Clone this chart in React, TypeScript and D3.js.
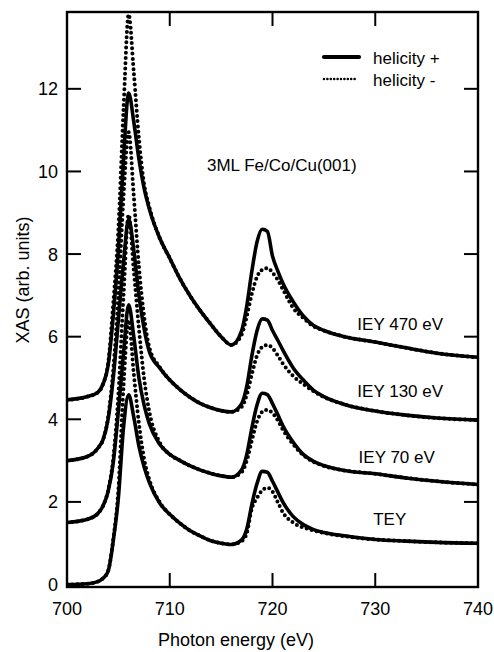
import React, { useEffect, useRef } from "react";
import * as d3 from "d3";

// photon energy samples (eV)
const energy = [700, 702, 703, 703.5, 704, 704.5, 705, 705.5, 706, 706.5, 707, 707.5, 708, 709, 710, 711, 712, 713, 714, 715, 716, 717, 717.5, 718, 718.5, 719, 719.5, 720, 720.5, 721, 722, 723, 724, 725, 727, 730, 733, 736, 740];

const teyPlus = [0.0, 0.02, 0.07, 0.15, 0.32, 1.05, 2.1, 3.8, 4.59, 4.05, 3.35, 2.85, 2.48, 1.98, 1.7, 1.48, 1.3, 1.17, 1.06, 1.0, 0.97, 1.08, 1.35, 1.95, 2.45, 2.74, 2.72, 2.5, 2.25, 2.0, 1.65, 1.45, 1.33, 1.26, 1.18, 1.09, 1.05, 1.02, 1.0];
const teyMinus = [0.0, 0.02, 0.07, 0.15, 0.33, 1.1, 2.3, 4.8, 6.4, 5.1, 3.9, 3.05, 2.55, 2.0, 1.7, 1.48, 1.3, 1.17, 1.06, 1.0, 0.97, 1.05, 1.25, 1.85, 2.1, 2.28, 2.34, 2.25, 2.0, 1.75, 1.5, 1.38, 1.31, 1.25, 1.17, 1.09, 1.05, 1.02, 1.0];

const iey70Plus = [1.5, 1.58, 1.72, 1.9, 2.25, 2.95, 4.2, 5.6, 6.77, 6.0, 5.0, 4.35, 3.9, 3.4, 3.15, 3.0, 2.87, 2.77, 2.69, 2.63, 2.6, 2.78, 3.15, 3.8, 4.35, 4.63, 4.6, 4.38, 4.12, 3.85, 3.45, 3.15, 2.98, 2.88, 2.76, 2.68, 2.58, 2.5, 2.42];
const iey70Minus = [1.5, 1.58, 1.72, 1.9, 2.28, 3.05, 4.6, 7.0, 8.95, 7.6, 6.2, 5.0, 4.2, 3.45, 3.15, 3.0, 2.87, 2.77, 2.69, 2.63, 2.6, 2.72, 3.0, 3.5, 3.95, 4.18, 4.23, 4.15, 3.98, 3.75, 3.4, 3.13, 2.97, 2.87, 2.76, 2.68, 2.58, 2.5, 2.42];

const iey130Plus = [3.0, 3.1, 3.3, 3.5, 4.0, 5.0, 6.4, 7.8, 8.85, 8.1, 7.0, 6.2, 5.65, 5.25, 4.95, 4.72, 4.53, 4.38, 4.28, 4.21, 4.18, 4.38, 4.8, 5.55, 6.15, 6.43, 6.4, 6.15, 5.92, 5.68, 5.25, 4.95, 4.7, 4.55, 4.36, 4.2, 4.1, 4.03, 3.98];
const iey130Minus = [3.0, 3.1, 3.3, 3.5, 4.05, 5.2, 7.0, 9.4, 10.95, 9.4, 7.7, 6.5, 5.75, 5.27, 4.95, 4.72, 4.53, 4.38, 4.28, 4.21, 4.18, 4.3, 4.6, 5.1, 5.55, 5.75, 5.8, 5.72, 5.55, 5.35, 5.05, 4.85, 4.68, 4.54, 4.36, 4.2, 4.1, 4.03, 3.98];

const iey470Plus = [4.47, 4.55, 4.65, 4.85, 5.3, 6.5, 8.1, 10.3, 11.9, 11.2, 10.3, 9.6, 9.1, 8.4, 7.9, 7.4, 6.98, 6.62, 6.3, 6.0, 5.8, 6.15, 6.75, 7.6, 8.3, 8.6, 8.55, 7.95, 7.6, 7.3, 6.85, 6.5, 6.27, 6.15, 6.0, 5.87, 5.73, 5.6, 5.5];
const iey470Minus = [4.47, 4.55, 4.65, 4.85, 5.35, 6.8, 8.6, 11.5, 13.8, 12.4, 10.8, 9.7, 9.15, 8.4, 7.9, 7.4, 6.98, 6.62, 6.3, 6.0, 5.8, 6.05, 6.5, 7.05, 7.45, 7.62, 7.66, 7.55, 7.38, 7.15, 6.7, 6.45, 6.25, 6.15, 6.0, 5.87, 5.73, 5.6, 5.5];

const xTicks = [700, 710, 720, 730, 740];
const yTicks = [0, 2, 4, 6, 8, 10, 12];

const curveLabels = [
    { text: "IEY 470 eV", x: 736.6, y: 6.15, anchor: "end" },
    { text: "IEY 130 eV", x: 736.6, y: 4.55, anchor: "end" },
    { text: "IEY 70 eV", x: 735.8, y: 2.95, anchor: "end" },
    { text: "TEY", x: 729.8, y: 1.45, anchor: "start" },
];

const W = 494;
const H = 652;
const margin = { top: 12, right: 16, bottom: 65, left: 67 };
const FONT = "'Liberation Sans', Arial, Helvetica, sans-serif";

function XasChart() {
    const ref = useRef(null);
    useEffect(() => {
        document.body.style.margin = "0";
        const svg = d3
            .select(ref.current)
            .append("svg")
            .attr("width", W)
            .attr("height", H)
            .style("display", "block")
            .style("background", "#fff");

        const x = d3.scaleLinear().domain([700, 740]).range([margin.left, W - margin.right]);
        const y = d3.scaleLinear().domain([-0.06, 13.86]).range([H - margin.bottom, margin.top]);

        svg.append("clipPath")
            .attr("id", "plotclip")
            .append("rect")
            .attr("x", margin.left)
            .attr("y", margin.top)
            .attr("width", W - margin.left - margin.right)
            .attr("height", H - margin.top - margin.bottom);

        const line = d3
            .line()
            .x((d) => x(d[0]))
            .y((d) => y(d[1]))
            .curve(d3.curveMonotoneX);

        const series = [
            { v: teyMinus, dash: true },
            { v: iey70Minus, dash: true },
            { v: iey130Minus, dash: true },
            { v: iey470Minus, dash: true },
            { v: teyPlus, dash: false },
            { v: iey70Plus, dash: false },
            { v: iey130Plus, dash: false },
            { v: iey470Plus, dash: false },
        ];

        const g = svg.append("g").attr("clip-path", "url(#plotclip)");
        series.forEach((s) => {
            const pts = energy.map((e, i) => [e, s.v[i]]);
            g.append("path")
                .attr("d", line(pts))
                .attr("fill", "none")
                .attr("stroke", "#000")
                .attr("stroke-width", s.dash ? 4 : 3.6)
                .attr("stroke-linecap", "round")
                .attr("stroke-linejoin", "round")
                .attr("stroke-dasharray", s.dash ? "0 5.2" : null);
        });

        // frame
        const x0 = margin.left, x1 = W - margin.right, y0 = margin.top, y1 = H - margin.bottom;
        svg.append("rect")
            .attr("x", x0)
            .attr("y", y0)
            .attr("width", x1 - x0)
            .attr("height", y1 - y0)
            .attr("fill", "none")
            .attr("stroke", "#000")
            .attr("stroke-width", 2.4);

        const tickLen = 14;
        // bottom / top ticks
        xTicks.slice(1, -1).forEach((t) => {
            svg.append("line").attr("x1", x(t)).attr("x2", x(t)).attr("y1", y1).attr("y2", y1 - tickLen)
                .attr("stroke", "#000").attr("stroke-width", 2);
            svg.append("line").attr("x1", x(t)).attr("x2", x(t)).attr("y1", y0).attr("y2", y0 + tickLen)
                .attr("stroke", "#000").attr("stroke-width", 2);
        });
        xTicks.forEach((t) => {
            svg.append("text")
                .attr("x", x(t))
                .attr("y", y1 + 28)
                .attr("text-anchor", "middle")
                .attr("font-family", FONT)
                .attr("font-size", 18)
                .text(t);
        });
        // left / right ticks
        yTicks.forEach((t) => {
            if (t > 0) {
                svg.append("line").attr("x1", x0).attr("x2", x0 + tickLen).attr("y1", y(t)).attr("y2", y(t))
                    .attr("stroke", "#000").attr("stroke-width", 2);
                svg.append("line").attr("x1", x1).attr("x2", x1 - tickLen).attr("y1", y(t)).attr("y2", y(t))
                    .attr("stroke", "#000").attr("stroke-width", 2);
            }
            svg.append("text")
                .attr("x", x0 - 9)
                .attr("y", y(t) + 6.5)
                .attr("text-anchor", "end")
                .attr("font-family", FONT)
                .attr("font-size", 18)
                .text(t);
        });

        // axis titles
        svg.append("text")
            .attr("x", 236)
            .attr("y", 646)
            .attr("text-anchor", "middle")
            .attr("font-family", FONT)
            .attr("font-size", 18)
            .text("Photon energy (eV)");
        svg.append("text")
            .attr("transform", `translate(29, 280) rotate(-90)`)
            .attr("text-anchor", "middle")
            .attr("font-family", FONT)
            .attr("font-size", 18)
            .text("XAS (arb. units)");

        // annotations
        svg.append("text")
            .attr("x", 207)
            .attr("y", 171)
            .attr("font-family", FONT)
            .attr("font-size", 17)
            .text("3ML Fe/Co/Cu(001)");
        curveLabels.forEach((c) => {
            svg.append("text")
                .attr("x", x(c.x))
                .attr("y", y(c.y))
                .attr("text-anchor", c.anchor)
                .attr("font-family", FONT)
                .attr("font-size", 17)
                .text(c.text);
        });

        // legend
        const leg = [
            { label: "helicity +", dash: false, y: 57 },
            { label: "helicity -", dash: true, y: 79 },
        ];
        leg.forEach((l) => {
            svg.append("line")
                .attr("x1", 324)
                .attr("x2", l.dash ? 357 : 359)
                .attr("y1", l.y)
                .attr("y2", l.y)
                .attr("stroke", "#000")
                .attr("stroke-width", l.dash ? 2.6 : 4.2)
                .attr("stroke-linecap", "round")
                .attr("stroke-dasharray", l.dash ? "0 3.4" : null);
            svg.append("text")
                .attr("x", 373)
                .attr("y", l.y + 7)
                .attr("font-family", FONT)
                .attr("font-size", 17)
                .text(l.label);
        });

        return () => svg.remove();
    }, []);
    return <div ref={ref}></div>;
}

export default function App() {
    return <XasChart />;
}
